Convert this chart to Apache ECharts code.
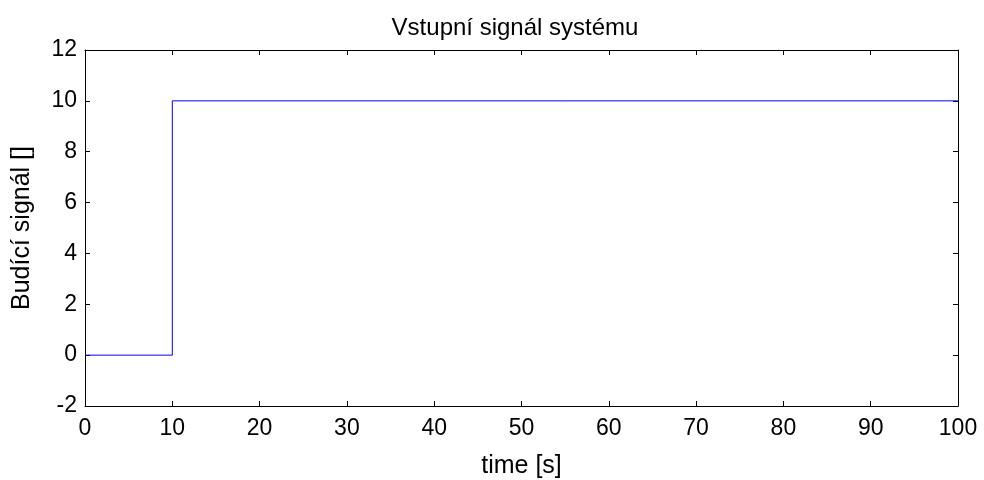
<!DOCTYPE html>
<html><head><meta charset="utf-8">
<script src="https://cdn.jsdelivr.net/npm/echarts@6/dist/echarts.min.js"></script>
<style>html,body{margin:0;padding:0;background:#fff}#c{width:984px;height:480px}</style>
</head><body><div id="c"></div>
<script>
const timeValues = [0, 10, 10, 100];
const signalValues = [0, 0, 10, 10];
const titleText = 'Vstupní signál systému';
const xName = 'time [s]';
const yName = 'Budící signál []';

const chart = echarts.init(document.getElementById('c'));
const font = 'Liberation Sans, Arial, sans-serif';
const axisCommon = {
  axisLine: {show: true, onZero: false, lineStyle: {color: '#000', width: 1}},
  axisTick: {show: true, inside: true, length: 5, lineStyle: {color: '#000'}},
  splitLine: {show: false}
};
chart.setOption({
  animation: false,
  title: {text: titleText, left: 510, top: 11, textAlign: 'center',
    textStyle: {fontFamily: font, fontSize: 24, fontWeight: 'normal', color: '#000'}},
  grid: {left: 85, right: 26, top: 50, bottom: 74, containLabel: false, outerBoundsMode: 'none'},
  xAxis: [
    Object.assign({type: 'value', min: 0, max: 100, interval: 10, position: 'bottom',
      name: xName, nameLocation: 'middle', nameGap: 48,
      nameTextStyle: {fontFamily: font, fontSize: 25, color: '#000'},
      axisLabel: {fontFamily: font, fontSize: 23, color: '#000', margin: 11}}, axisCommon),
    Object.assign({type: 'value', min: 0, max: 100, interval: 10, position: 'top',
      axisLabel: {show: false}}, axisCommon)
  ],
  yAxis: [
    Object.assign({type: 'value', min: -2, max: 12, interval: 2, position: 'left',
      name: yName, nameLocation: 'middle', nameGap: 50,
      nameTextStyle: {fontFamily: font, fontSize: 25, color: '#000'},
      axisLabel: {fontFamily: font, fontSize: 23, color: '#000', margin: 8}}, axisCommon),
    Object.assign({type: 'value', min: -2, max: 12, interval: 2, position: 'right',
      axisLabel: {show: false}}, axisCommon)
  ],
  series: [{
    type: 'line', xAxisIndex: 0, yAxisIndex: 0, showSymbol: false,
    data: timeValues.map((t, i) => [t, signalValues[i]]),
    lineStyle: {color: '#0000ff', width: 1}
  }]
});
</script></body></html>
